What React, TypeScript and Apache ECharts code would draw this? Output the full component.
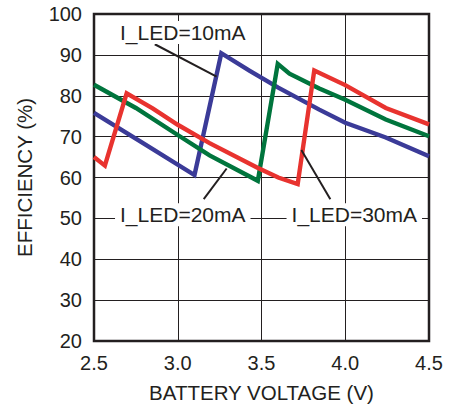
import React, { useEffect, useRef } from "react";
import * as echarts from "echarts";

const xTicks = ["2.5", "3.0", "3.5", "4.0", "4.5"];
const yTicks = ["20", "30", "40", "50", "60", "70", "80", "90", "100"];

const led10mA: [number, number][] = [
  [2.5, 75.8], [2.8, 68.2], [3.1, 60.6], [3.26, 90.4], [3.43, 86.1], [3.6, 82.0],
  [3.845, 76.6], [4.0, 73.4], [4.242, 69.8], [4.5, 65.2],
];
const led20mA: [number, number][] = [
  [2.5, 82.7], [2.75, 77.0], [3.0, 70.4], [3.19, 65.4], [3.478, 59.2], [3.597, 87.8],
  [3.667, 85.4], [3.845, 81.8], [4.0, 79.0], [4.242, 74.2], [4.5, 70.1],
];
const led30mA: [number, number][] = [
  [2.5, 65.0], [2.565, 62.9], [2.695, 80.6], [2.85, 76.9], [3.0, 72.9], [3.19, 68.4],
  [3.476, 62.4], [3.6, 60.0], [3.716, 58.4], [3.815, 86.2], [4.0, 82.6], [4.242, 77.0],
  [4.5, 73.0],
];

const labelNames = ["I_LED=10mA", "I_LED=20mA", "I_LED=30mA"];
const labelPos: [number, number][] = [[3.03, 95.45], [3.03, 50.9], [4.054, 50.9]];
const leaders: [[number, number], [number, number]][] = [
  [[2.863, 92.6], [3.232, 84.7]],
  [[3.155, 54.7], [3.292, 62.2]],
  [[3.911, 54.7], [3.738, 66.7]],
];

const TXT = "#231f20";
const FONT = "Liberation Sans, Arial, sans-serif";

export default function App() {
  const ref = useRef<HTMLDivElement>(null);
  useEffect(() => {
    const chart = echarts.init(ref.current!, null, { renderer: "svg" });
    const lineSeries = (name: string, data: [number, number][], color: string) => ({
      name,
      type: "line",
      data,
      symbol: "none",
      lineStyle: { color, width: 4.4, join: "miter" },
      itemStyle: { color },
      z: 3,
    });
    chart.setOption({
      animation: false,
      backgroundColor: "#fff",
      textStyle: { fontFamily: FONT },
      grid: {
        left: 94,
        top: 14,
        width: 335,
        height: 334,
        show: true,
        borderColor: TXT,
        borderWidth: 2.5,
        backgroundColor: "#fff",
        z: 0,
      },
      xAxis: {
        type: "value",
        min: 2.5,
        max: 4.5,
        interval: 0.5,
        name: "BATTERY VOLTAGE (V)",
        nameLocation: "middle",
        nameGap: 41,
        nameTextStyle: { color: TXT, fontSize: 20.5, fontFamily: FONT },
        axisLine: { show: false },
        axisTick: { show: false },
        axisLabel: {
          color: TXT,
          fontSize: 20,
          fontFamily: FONT,
          margin: 12,
          formatter: (v: number) => xTicks[Math.round((v - 2.5) / 0.5)] ?? v.toFixed(1),
        },
        splitLine: { show: true, lineStyle: { color: TXT, width: 1 } },
      },
      yAxis: {
        type: "value",
        min: 20,
        max: 100,
        interval: 10,
        name: "EFFICIENCY (%)",
        nameLocation: "middle",
        nameGap: 59,
        nameTextStyle: { color: TXT, fontSize: 20.5, fontFamily: FONT },
        axisLine: { show: false },
        axisTick: { show: false },
        axisLabel: {
          color: TXT,
          fontSize: 20,
          fontFamily: FONT,
          margin: 12,
          formatter: (v: number) => yTicks[Math.round((v - 20) / 10)] ?? String(v),
        },
        splitLine: { show: true, lineStyle: { color: TXT, width: 1 } },
      },
      series: [
        lineSeries("10mA", led10mA, "#3b3b98"),
        lineSeries("20mA", led20mA, "#00753d"),
        {
          ...lineSeries("30mA", led30mA, "#e8332f"),
          markLine: {
            silent: true,
            symbol: "none",
            label: { show: false },
            lineStyle: { color: TXT, width: 2, type: "solid" },
            data: leaders.map(([a, b]) => [{ coord: a }, { coord: b }]),
            z: 5,
          },
          markPoint: {
            silent: true,
            symbol: "rect",
            symbolSize: 0,
            label: {
              show: true,
              position: "inside",
              formatter: "{b}",
              color: TXT,
              fontSize: 21,
              fontFamily: FONT,
              backgroundColor: "#fff",
              padding: [1, 5],
            },
            data: labelNames.map((n, i) => ({ name: n, coord: labelPos[i] })),
            z: 6,
          },
        },
      ],
    });
    return () => chart.dispose();
  }, []);
  return (
    <div
      ref={ref}
      style={{ position: "fixed", left: 0, top: 0, width: 454, height: 408 }}
    />
  );
}
